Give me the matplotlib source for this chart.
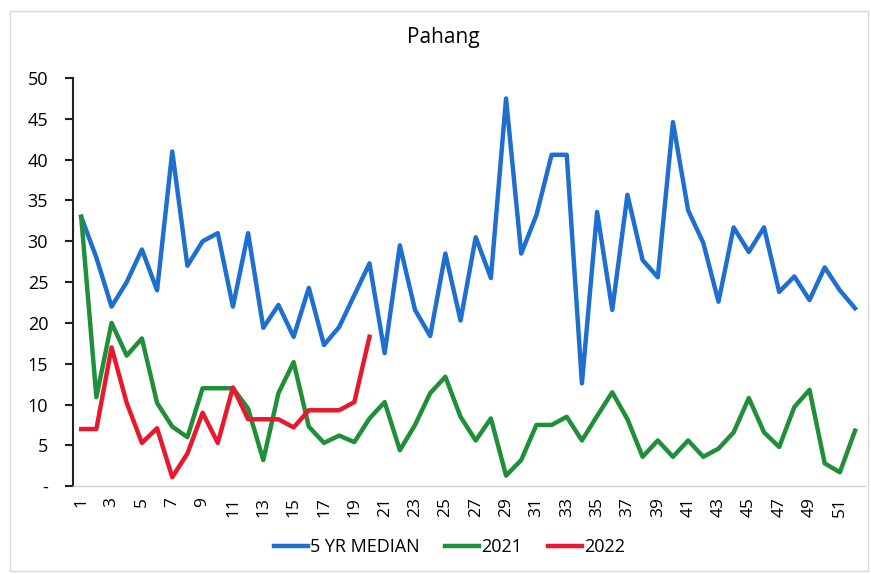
import matplotlib.pyplot as plt
from matplotlib.patches import Rectangle

weeks = list(range(1, 53))

median_5yr = [33, 28, 22, 25, 29, 24, 41, 27, 30, 31, 22, 31, 19.4, 22.2, 18.3,
              24.3, 17.3, 19.5, 23.4, 27.3, 16.3, 29.5, 21.6, 18.4, 28.5, 20.3,
              30.5, 25.5, 47.5, 28.5, 33.2, 40.6, 40.6, 12.6, 33.6, 21.6, 35.7,
              27.7, 25.6, 44.6, 33.8, 29.8, 22.6, 31.7, 28.7, 31.7, 23.8, 25.7,
              22.8, 26.8, 24, 21.8]
y2021 = [33, 10.9, 20, 16, 18.1, 10.2, 7.3, 6, 12, 12, 12, 9.5, 3.2, 11.4, 15.2,
         7.3, 5.3, 6.2, 5.4, 8.3, 10.3, 4.4, 7.5, 11.4, 13.4, 8.5, 5.6, 8.3, 1.3,
         3.2, 7.5, 7.5, 8.5, 5.6, 8.6, 11.5, 8.2, 3.6, 5.6, 3.6, 5.6, 3.6, 4.6,
         6.6, 10.8, 6.6, 4.8, 9.7, 11.8, 2.8, 1.7, 6.8]
y2022 = [7, 7, 17, 10.2, 5.3, 7.1, 1.1, 4, 9, 5.3, 12.1, 8.2, 8.2, 8.2, 7.2,
         9.3, 9.3, 9.3, 10.3, 18.3]

plt.rcParams['font.family'] = ['Open Sans', 'DejaVu Sans']

fig = plt.figure(figsize=(8.71, 5.74), dpi=100)
fig.patches.append(Rectangle((0.012, 0.006), 0.985, 0.974, transform=fig.transFigure,
                             fill=False, edgecolor='#d9d9d9', linewidth=1))
ax = fig.add_axes([0.084, 0.153, 0.909, 0.711])

ax.plot(weeks, median_5yr, color='#1f6fd1', linewidth=3.2, label='5 YR MEDIAN')
ax.plot(weeks, y2021, color='#1f8f3a', linewidth=3.2, label='2021')
ax.plot(weeks[:len(y2022)], y2022, color='#e8192c', linewidth=3.2, label='2022')

ax.set_xlim(0.47, 52.65)
ax.set_ylim(0, 50)
ax.set_yticks(range(0, 51, 5))
ax.set_yticklabels(['-'] + [str(v) for v in range(5, 51, 5)], fontsize=13)
ax.set_xticks(weeks[::2])
ax.set_xticklabels([str(w) for w in weeks[::2]], rotation=90, fontsize=12.5)
ax.tick_params(axis='x', length=0, pad=8)
ax.tick_params(axis='y', length=6, width=1.5, color='#222222', pad=12)

for s in ['top', 'right']:
    ax.spines[s].set_visible(False)
ax.spines['left'].set_color('#222222')
ax.spines['left'].set_linewidth(1.5)
ax.spines['bottom'].set_color('#d0d0d0')
ax.spines['bottom'].set_linewidth(1)

fig.text(0.509, 0.934, 'Pahang', fontsize=15, ha='center', va='center')
fig.legend(loc='center', bbox_to_anchor=(0.516, 0.047), ncol=3, frameon=False,
           fontsize=13, handlelength=1.9, handletextpad=0.1, columnspacing=1.4)

fig.savefig('out.png', dpi=100)
